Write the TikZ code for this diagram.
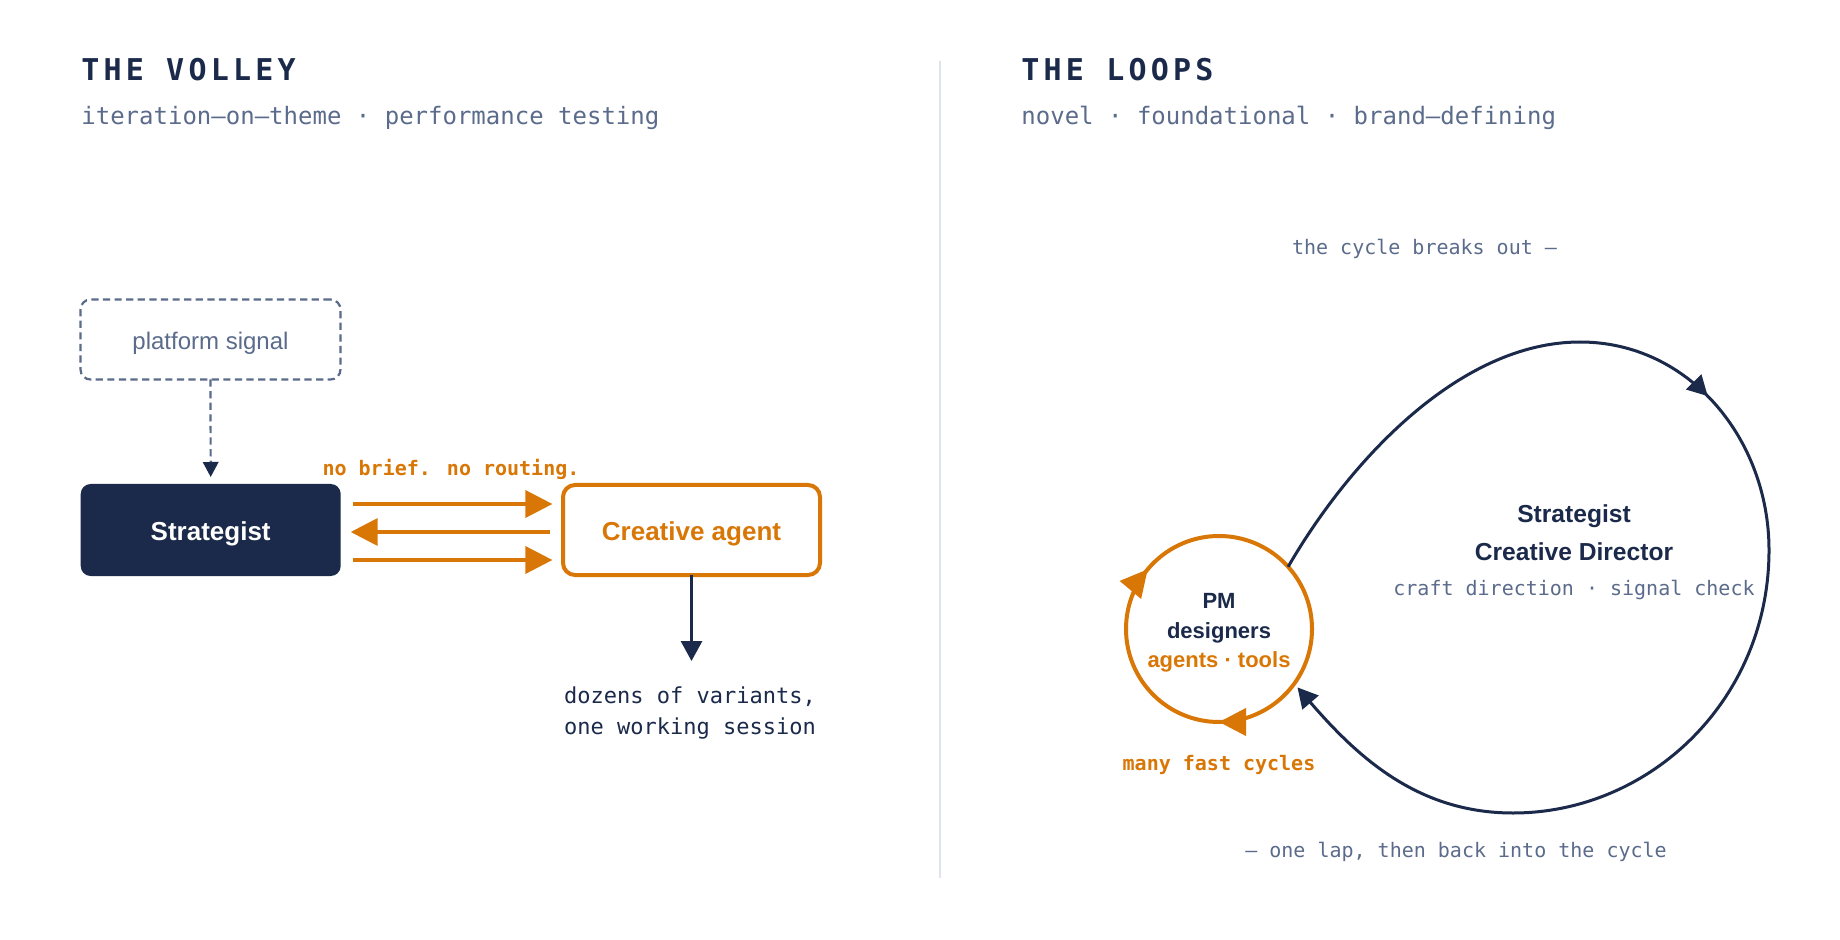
\documentclass[tikz,border=0pt]{standalone}
\usepackage{fontspec}
\setmainfont{Liberation Sans}
\newfontfamily\monofont{DejaVu Sans Mono}
\newfontfamily\titlefont{DejaVu Sans Mono}[LetterSpace=14]
\usetikzlibrary{arrows.meta,decorations.markings,calc}
\definecolor{navy}{HTML}{1B2A4A}
\definecolor{slate}{HTML}{5B6B8B}
\definecolor{amber}{HTML}{D97706}
\definecolor{rulecol}{HTML}{DFE3EA}
\tikzset{
  titletext/.style={anchor=base west, inner sep=0, text=navy, font=\titlefont\bfseries\fontsize{15}{18}\selectfont},
  subtext/.style={anchor=base west, inner sep=0, text=slate, font=\monofont\fontsize{12}{14}\selectfont},
  notetext/.style={anchor=base, inner sep=0, text=slate, font=\monofont\fontsize{10}{12}\selectfont},
  ambernote/.style={anchor=base, inner sep=0, text=amber, font=\monofont\bfseries\fontsize{10}{12}\selectfont},
  outtext/.style={anchor=base, inner sep=0, text=navy, font=\monofont\fontsize{11}{13}\selectfont},
  rolebold/.style={anchor=base, inner sep=0, text=navy, font=\bfseries\fontsize{12.3}{14}\selectfont},
  amberhead/.tip={Triangle[length=13.5pt,width=13.5pt]},
  navyhead/.tip={Triangle[length=10pt,width=10.5pt]},
  amberarrow/.style={draw=amber, line width=1.8pt, -{amberhead}},
  dashline/.style={line width=1.1pt, dash pattern=on 3.6pt off 2.2pt},
}
\begin{document}
\begin{tikzpicture}[x=0.5pt,y=0.5pt]
\useasboundingbox (0,0) rectangle (1840,-940);
\fill[white] (0,0) rectangle (1840,-940);

% titles
\node[titletext] (t1) at (81,-81) {THE VOLLEY};
\node[subtext] (s1) at (81,-124.5) {iteration—on—theme · performance testing};
\node[titletext] (t2) at (1021,-81) {THE LOOPS};
\node[subtext] (s2) at (1021,-124.5) {novel · foundational · brand—defining};

% divider
\coordinate (dtop) at (940,-61);
\coordinate (dbot) at (940,-878);
\draw[rulecol, line width=1pt] (dtop) -- (dbot);

% left panel
\node[draw=slate, dashline, rounded corners=5pt,
      minimum width=130pt, minimum height=40pt, inner sep=0, outer sep=0,
      text height=9.8pt, text depth=0pt,
      text=slate, font=\fontsize{12}{14}\selectfont] (plat) at (210.5,-339.5) {platform signal};
\node[fill=navy, rounded corners=5pt, minimum width=130pt, minimum height=46pt, inner sep=0, outer sep=0,
      text height=10.5pt, text depth=0pt,
      text=white, font=\bfseries\fontsize{13}{15}\selectfont] (strat) at (210.7,-530) {Strategist};
\node[draw=amber, line width=2pt, fill=white, rounded corners=6pt, minimum width=128.5pt, minimum height=45pt,
      inner sep=0, outer sep=0, text height=10.5pt, text depth=0pt,
      text=amber, font=\bfseries\fontsize{13}{15}\selectfont] (creative) at (691.5,-530) {Creative agent};

\draw[slate, dashline, -{Triangle[length=7.5pt,width=7.7pt,color=navy]}, shorten >=3.5pt]
  (plat.south) -- (strat.north);

\draw[amberarrow, shorten <=6pt, shorten >=5.3pt] ([yshift=13pt]strat.east) -- ([yshift=13pt]creative.west);
\draw[amberarrow, shorten <=6.3pt, shorten >=5pt] ([yshift=-1pt]creative.west) -- ([yshift=-1pt]strat.east);
\draw[amberarrow, shorten <=6pt, shorten >=5.3pt] ([yshift=-15pt]strat.east) -- ([yshift=-15pt]creative.west);

\node[ambernote] (nobrief) at (451,-475) {no brief. no routing.};

\coordinate (downend) at (691.5,-661);
\draw[navy, line width=1.5pt, -{navyhead}] (creative.south) -- (downend);
\node[outtext] (out1) at (690,-703) {dozens of variants,};
\node[outtext] (out2) at (690,-734) {one working session};

% right panel
\node[circle, minimum size=93pt, inner sep=0, outer sep=0] (pm) at (1219,-629) {};
\node[align=center, inner sep=0, text=navy, font=\bfseries\fontsize{11}{14.75}\selectfont] (pmtext) at (1219,-633)
      {PM\\designers\\\textcolor{amber}{agents · tools}};
\draw[amber, line width=2pt, postaction={decorate},
      decoration={markings,
        mark=at position 0.25 with {\arrow{amberhead}},
        mark=at position 0.611 with {\arrow{amberhead}}}]
  ([xshift=46.5pt]pm.center) arc[start angle=0, end angle=-360, radius=46.5pt];

\draw[navy, line width=1.5pt, -{navyhead}, shorten >=2.5pt, postaction={decorate},
      decoration={markings, mark=at position 0.385 with {\arrow{navyhead}}}]
  (pm.42) .. controls (1350,-460) and (1460,-342) .. (1580,-342)
          .. controls (1690,-342) and (1769,-440) .. (1769,-550)
          .. controls (1769,-700) and (1650,-813) .. (1513,-813)
          .. controls (1420,-813) and (1360,-760) .. (pm.-36);

\node[notetext] (breaks) at (1424.5,-255) {the cycle breaks out —};
\node[notetext] (lap) at (1456,-857) {— one lap, then back into the cycle};
\node[ambernote] (fast) at (1219,-770) {many fast cycles};

\node[rolebold] (r1) at (1574,-523) {Strategist};
\node[rolebold] (r2) at (1574,-560) {Creative Director};
\node[notetext] (r3) at (1574,-595) {craft direction · signal check};
\end{tikzpicture}
\end{document}
